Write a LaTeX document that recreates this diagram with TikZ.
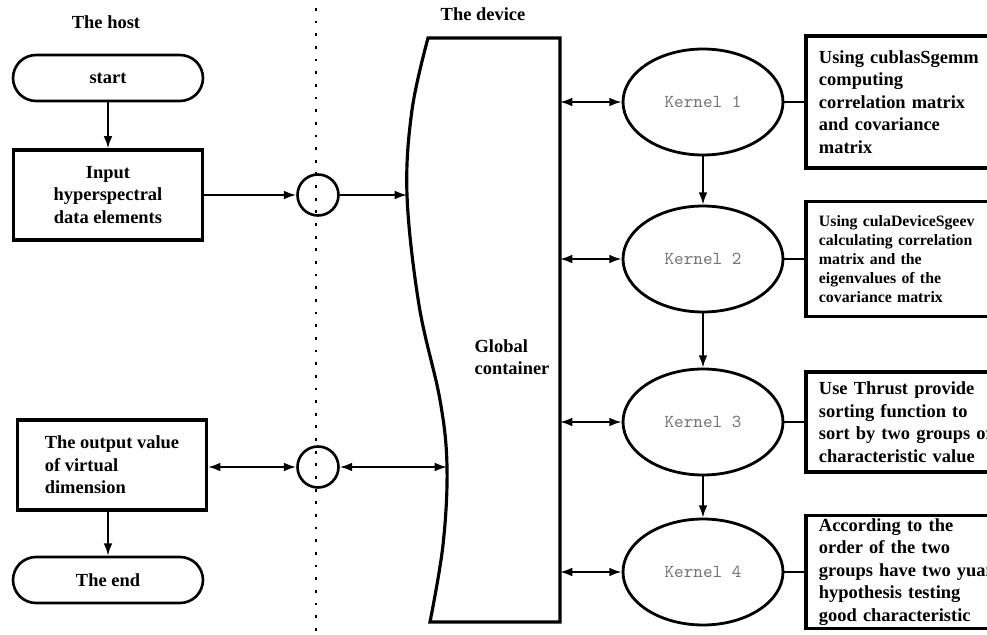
\documentclass[tikz,border=0pt]{standalone}
\usepackage{fontspec}
\setmainfont{Liberation Serif}
\usetikzlibrary{arrows.meta,shapes.geometric,positioning}

\begin{document}
\begin{tikzpicture}[x=0.02cm,y=-0.02cm,>={Latex[length=7pt,width=5pt]},line width=1.1pt,node distance=0.4cm,
  font=\bfseries\fontsize{10.5}{12.8}\selectfont,
  term node/.style={draw,line width=1.5pt,rounded corners=0.46cm,minimum width=3.8cm,minimum height=0.92cm},
  host node/.style={draw,line width=1.8pt,minimum width=3.78cm,minimum height=1.8cm},
  link node/.style={circle,draw,line width=1.5pt,minimum size=0.82cm,inner sep=0pt},
  kernel node/.style={ellipse,draw,line width=1.6pt,minimum width=3.2cm,minimum height=2.12cm,font=\ttfamily\fontsize{10.4}{12}\selectfont,text=black!55},
  task node/.style={draw,line width=1.8pt,text width=4cm,inner xsep=0.26cm,align=left,right=of #1}]
\useasboundingbox (0,0) rectangle (987,635);

\coordinate (top) at (316,8);
\coordinate (bot) at (316,640);
\draw[line width=1.6pt,dash pattern=on 1.6pt off 5.6pt] (top) -- (bot);

\node (host) at (106,22) {The host};
\node (device) at (483,14) {The device};

\node[term node] (start) at (108,78) {start};
\node[host node,align=center] (input) at (108,195) {Input\\hyperspectral\\data elements};
\node[host node,align=left] (output) at (112,465) {The output value\\of virtual\\dimension};
\node[term node] (end) at (108,580) {The end};
\node[link node] (c1) at (318,195) {};
\node[link node] (c2) at (318,467) {};

\draw[line width=1.8pt] plot[smooth,tension=0.6] coordinates {(428,38) (412,110) (407,195) (419,305) (440,400) (447,467) (443,545) (430,622)} -- (560,622) -- (560,38) -- cycle;
\coordinate (gin) at (407,195);
\coordinate (gout) at (447,467);
\coordinate (gright) at (560,0);
\node[align=left] (gc) at (512,357) {Global\\container};

\node[kernel node] (k1) at (703,102) {Kernel 1};
\node[kernel node] (k2) at (703,259) {Kernel 2};
\node[kernel node] (k3) at (703,422) {Kernel 3};
\node[kernel node] (k4) at (703,572) {Kernel 4};

\node[task node=k1,minimum height=2.64cm] (d1) {Using cublasSgemm\\computing\\correlation matrix\\and covariance\\matrix};
\node[task node=k2,minimum height=2.3cm,font=\bfseries\fontsize{9}{10.8}\selectfont] (d2) {Using culaDeviceSgeev\\calculating correlation\\matrix and the\\eigenvalues of the\\covariance matrix};
\node[task node=k3,minimum height=2cm] (d3) {Use Thrust provide\\sorting function to\\sort by two groups of\\characteristic value};
\node[task node=k4,minimum height=2.26cm,inner ysep=0pt] (d4) {According to the\\order of the two\\groups have two yuan\\hypothesis testing\\good characteristic};

\draw[->] (start) -- (input);
\draw[->] (end |- output.south) -- (end);
\draw[->] (input) -- (c1);
\draw[->] (c1) -- (gin);
\draw[<->] (output.east |- c2) -- (c2);
\draw[<->] (c2) -- (gout);

\draw[<->] (k1.west -| gright) -- (k1);
\draw[<->] (k2.west -| gright) -- (k2);
\draw[<->] (k3.west -| gright) -- (k3);
\draw[<->] (k4.west -| gright) -- (k4);
\draw[->] (k1) -- (k2);
\draw[->] (k2) -- (k3);
\draw[->] (k3) -- (k4);

\draw[semithick] (k1) -- (d1);
\draw[semithick] (k2) -- (d2);
\draw[semithick] (k3) -- (d3);
\draw[semithick] (k4) -- (d4);
\end{tikzpicture}
\end{document}
